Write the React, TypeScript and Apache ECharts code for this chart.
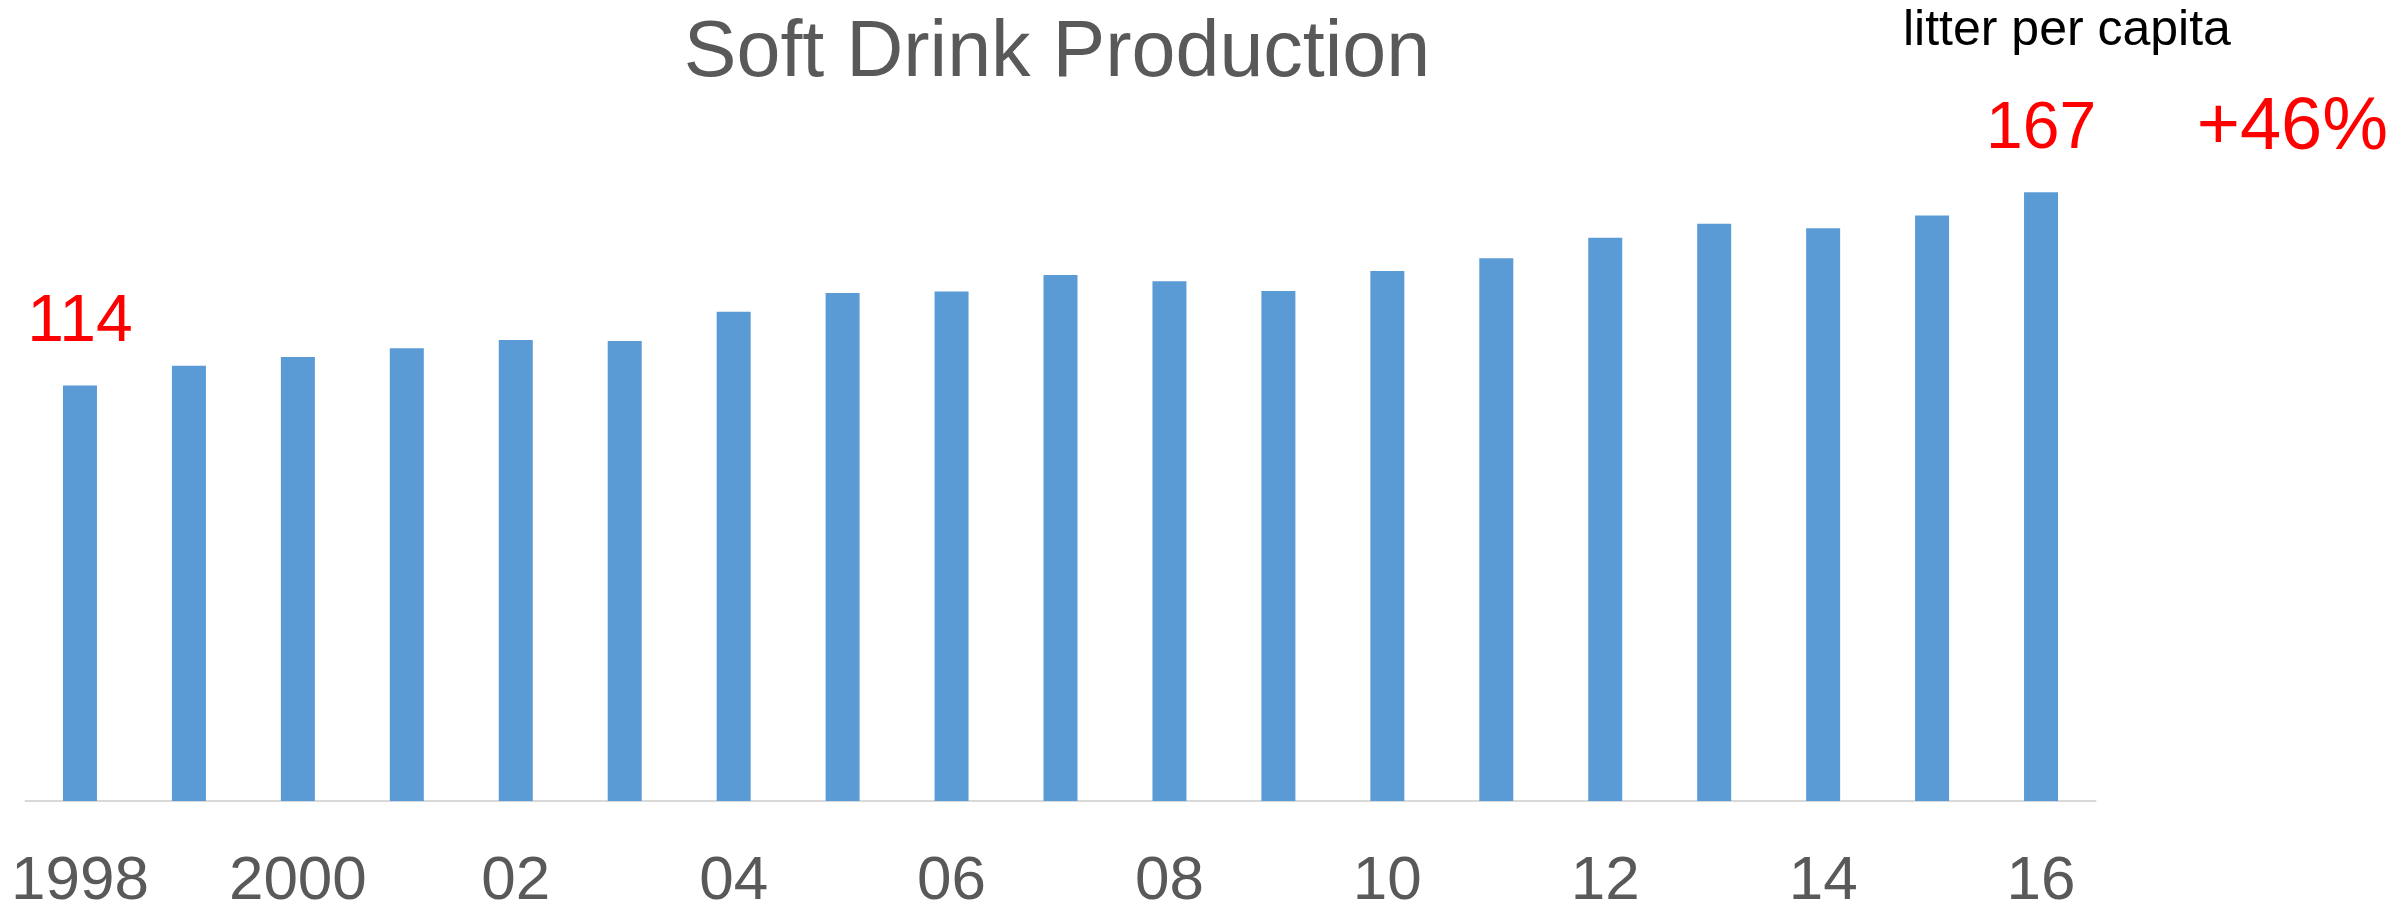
import React, { useEffect, useRef } from "react";
import * as echarts from "echarts";

const years = [
  "1998", "1999", "2000", "2001", "2002", "2003", "2004", "2005", "2006", "2007",
  "2008", "2009", "2010", "2011", "2012", "2013", "2014", "2015", "2016",
];
const tickLabels = [
  "1998", "", "2000", "", "02", "", "04", "", "06", "",
  "08", "", "10", "", "12", "", "14", "", "16",
];
const production = [
  114, 119.4, 121.8, 124.2, 126.5, 126.2, 134.2, 139.4, 139.8, 144.3,
  142.6, 139.9, 145.4, 148.9, 154.5, 158.4, 157.1, 160.6, 167,
];
const labelledIndexes = [0, 18];
const titleText = "Soft Drink Production";
const unitText = "litter per capita";
const changeText = "+46%";

const FONT = "'Liberation Sans', 'Noto Sans', Arial, sans-serif";

export default function App() {
  const ref = useRef<HTMLDivElement>(null);

  useEffect(() => {
    if (!ref.current) return;
    const chart = echarts.init(ref.current, undefined, { renderer: "svg" });
    const data = production.map((v, i) =>
      labelledIndexes.includes(i)
        ? {
            value: v,
            label: {
              show: true,
              position: "top",
              distance: 34,
              color: "#FF0000",
              fontFamily: FONT,
              fontSize: 66,
              formatter: String(Math.round(v)),
            },
          }
        : v
    );
    chart.setOption({
      animation: false,
      backgroundColor: "#ffffff",
      title: {
        text: titleText,
        left: 1052,
        top: 4,
        textAlign: "center",
        textStyle: {
          fontFamily: FONT,
          fontSize: 79,
          fontWeight: "normal",
          color: "#595959",
        },
      },
      grid: { left: 25.5, right: 296.5, top: 72, bottom: 112, containLabel: false },
      xAxis: {
        type: "category",
        data: years,
        axisLine: { show: true, lineStyle: { color: "#d9d9d9", width: 2 } },
        axisTick: { show: false },
        axisLabel: {
          interval: 0,
          margin: 48,
          fontFamily: FONT,
          fontSize: 62,
          lineHeight: 56,
          color: "#595959",
          formatter: (_v: string, i: number) => tickLabels[i],
        },
      },
      yAxis: {
        type: "value",
        min: 0,
        max: 200,
        show: false,
        splitLine: { show: false },
      },
      series: [
        {
          type: "bar",
          data,
          barWidth: 34,
          itemStyle: { color: "#5B9BD5" },
        },
      ],
      graphic: [
        {
          type: "text",
          left: 1903,
          top: 3,
          style: {
            text: unitText,
            font: `50px ${FONT}`,
            fill: "#000000",
          },
        },
        {
          type: "text",
          right: 4,
          top: 86,
          style: {
            text: changeText,
            font: `74px ${FONT}`,
            fill: "#FF0000",
          },
        },
      ],
    });
    return () => chart.dispose();
  }, []);

  return (
    <div
      ref={ref}
      style={{ position: "absolute", left: 0, top: 0, width: 2392, height: 913 }}
    />
  );
}
